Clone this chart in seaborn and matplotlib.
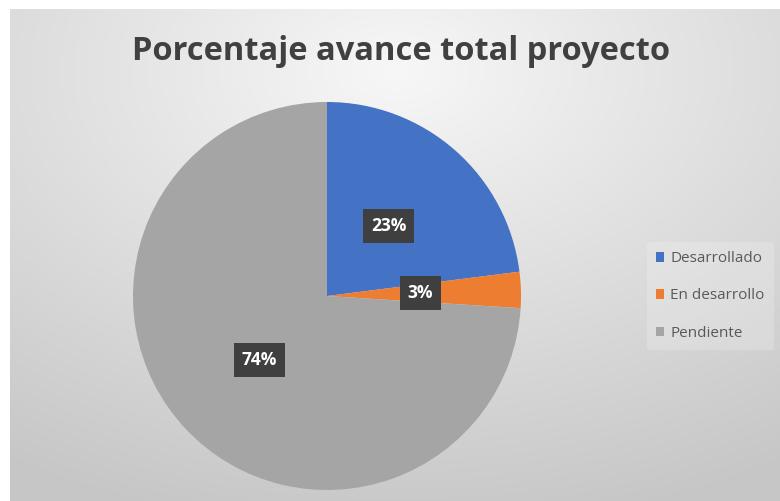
import numpy as np
import matplotlib
matplotlib.use("Agg")
import matplotlib.pyplot as plt
import seaborn as sns
from matplotlib.colors import LinearSegmentedColormap

categories = ["Desarrollado", "En desarrollo", "Pendiente"]
values = [23, 3, 74]
colors = ["#4472C4", "#ED7D31", "#A5A5A5"]
title = "Porcentaje avance total proyecto"

sns.set_theme(style="white")
plt.rcParams['font.family'] = ['Open Sans', 'DejaVu Sans']

W, H = 780, 501
fig = plt.figure(figsize=(W / 100, H / 100), dpi=100)
fig.patch.set_facecolor("white")

# background radial gradient (chart area, white border top/left)
bx0, by0 = 10 / W, 0.0
bw, bh = (W - 10) / W, (H - 9) / H
bg = fig.add_axes([bx0, by0, bw, bh])
bg.set_axis_off()
yy, xx = np.mgrid[0:200, 0:300]
cx, cy = 150, 25
d = np.sqrt(((xx - cx) / 300) ** 2 + ((yy - cy) / 200) ** 2)
d = np.clip(d / 0.95, 0, 1)
cmap = LinearSegmentedColormap.from_list("bg", ["#f7f7f7", "#dedede", "#c6c6c6"])
bg.imshow(d, cmap=cmap, aspect="auto", extent=[0, 1, 0, 1], origin="upper", vmin=0, vmax=1)
bg.set_xlim(0, 1)
bg.set_ylim(0, 1)

# pie
cxp, cyp, r = 327, 296, 194
ax = fig.add_axes([(cxp - r) / W, (H - cyp - r) / H, 2 * r / W, 2 * r / H])
ax.set_axis_off()
wedges, _ = ax.pie(values, colors=colors, startangle=90, counterclock=False,
                   radius=1.0, wedgeprops=dict(linewidth=0))
ax.set_xlim(-1, 1)
ax.set_ylim(-1, 1)
ax.set_aspect("auto")

# labels
total = sum(values)
cum = 0
for v in values:
    mid = 90 - (cum + v / 2) / total * 360
    cum += v
    a = np.deg2rad(mid)
    ax.text(0.48 * np.cos(a), 0.48 * np.sin(a), f"{round(v / total * 100)}%",
            ha="center", va="center", color="white", fontsize=12.5, fontweight="bold",
            bbox=dict(boxstyle="square,pad=0.45", facecolor="#3f3f3f", edgecolor="none"))

# title
fig.text(401 / W, 1 - 52 / H, title, ha="center", va="center",
         fontsize=23.5, fontweight="bold", color="#404040")

# legend
leg = fig.legend(wedges, categories, loc="center left",
                 bbox_to_anchor=(639 / W, 1 - 296 / H), frameon=True,
                 fontsize=11, handlelength=0.55, handleheight=0.55,
                 handletextpad=0.4, labelspacing=1.45, borderpad=0.6)
leg.get_frame().set_facecolor("white")
leg.get_frame().set_alpha(0.2)
leg.get_frame().set_edgecolor("none")
for t in leg.get_texts():
    t.set_color("#595959")

fig.savefig("out.png", dpi=100, facecolor=fig.get_facecolor())
